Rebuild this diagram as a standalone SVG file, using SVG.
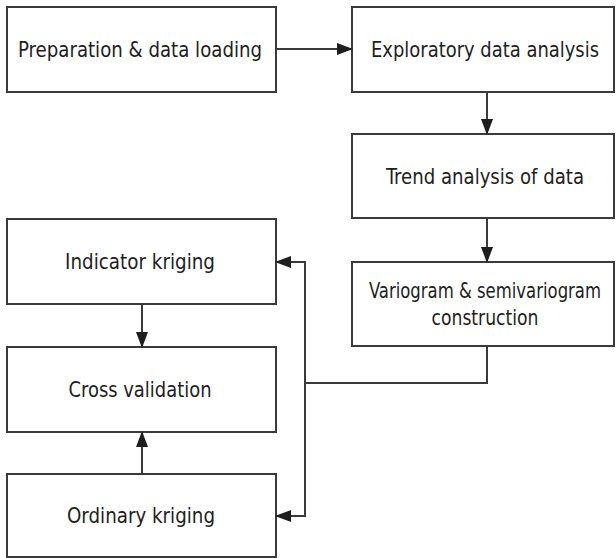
<svg xmlns="http://www.w3.org/2000/svg" width="616" height="558" viewBox="0 0 616 558">
  <style>
    .box { fill: #ffffff; stroke: #3a3a3a; stroke-width: 2; }
    .lbl { font-family: "DejaVu Sans Condensed", "Liberation Sans", Arial, sans-serif; font-size: 21px; fill: #1e1e1e; text-anchor: middle; }
    .conn { fill: none; stroke: #3a3a3a; stroke-width: 2; }
  </style>
  <defs>
    <marker id="arrow" viewBox="0 0 16 12" refX="15" refY="6" markerWidth="16" markerHeight="12" markerUnits="userSpaceOnUse" orient="auto">
      <path d="M0,0 L16,6 L0,12 z" fill="#1e1e1e"/>
    </marker>
  </defs>
  <rect width="616" height="558" fill="#ffffff"/>

  <g id="prep">
    <rect class="box" x="7" y="7" width="269" height="85"/>
    <text class="lbl" x="140" y="57" textLength="244" lengthAdjust="spacingAndGlyphs">Preparation &amp; data loading</text>
  </g>
  <g id="eda">
    <rect class="box" x="352" y="7" width="262" height="85"/>
    <text class="lbl" x="485" y="57" textLength="228" lengthAdjust="spacingAndGlyphs">Exploratory data analysis</text>
  </g>
  <g id="trend">
    <rect class="box" x="352" y="134" width="262" height="84"/>
    <text class="lbl" x="485" y="184" textLength="198" lengthAdjust="spacingAndGlyphs">Trend analysis of data</text>
  </g>
  <g id="variogram">
    <rect class="box" x="352" y="262" width="262" height="84"/>
    <text class="lbl" x="485" y="298" textLength="232" lengthAdjust="spacingAndGlyphs">Variogram &amp; semivariogram</text>
    <text class="lbl" x="485" y="325" textLength="107" lengthAdjust="spacingAndGlyphs">construction</text>
  </g>
  <g id="indicator">
    <rect class="box" x="7" y="219" width="269" height="85"/>
    <text class="lbl" x="140" y="269" textLength="150" lengthAdjust="spacingAndGlyphs">Indicator kriging</text>
  </g>
  <g id="cross">
    <rect class="box" x="7" y="347" width="269" height="85"/>
    <text class="lbl" x="140" y="397" textLength="143" lengthAdjust="spacingAndGlyphs">Cross validation</text>
  </g>
  <g id="ordinary">
    <rect class="box" x="7" y="474" width="269" height="83"/>
    <text class="lbl" x="141" y="523" textLength="148" lengthAdjust="spacingAndGlyphs">Ordinary kriging</text>
  </g>

  <g id="connectors">
    <path class="conn" d="M276,49 L352,49" marker-end="url(#arrow)"/>
    <path class="conn" d="M487,92 L487,134" marker-end="url(#arrow)"/>
    <path class="conn" d="M487,218 L487,262" marker-end="url(#arrow)"/>
    <path class="conn" d="M487,346 L487,383 L305,383 L305,262 L276,262" marker-end="url(#arrow)"/>
    <path class="conn" d="M305,383 L305,516 L276,516" marker-end="url(#arrow)"/>
    <path class="conn" d="M142,304 L142,347" marker-end="url(#arrow)"/>
    <path class="conn" d="M142,474 L142,432" marker-end="url(#arrow)"/>
  </g>
</svg>
